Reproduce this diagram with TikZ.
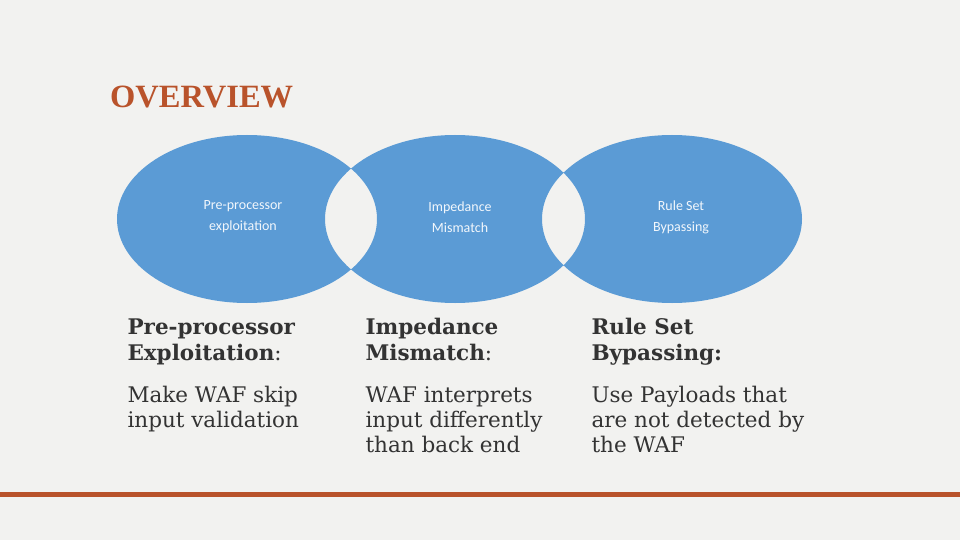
\documentclass[tikz,border=0pt]{standalone}
\usepackage{fontspec}
\setmainfont{Liberation Serif}
\newfontfamily\bodyf{DejaVu Serif}
\newfontfamily\lab{Carlito}
\definecolor{bg}{HTML}{F2F2F0}
\definecolor{blu}{HTML}{5B9BD5}
\definecolor{rust}{HTML}{B9532B}
\definecolor{txt}{HTML}{333333}
\begin{document}
\begin{tikzpicture}[x=1pt,y=-1pt,
  ell/.style={font=\lab\fontsize{14}{21}\selectfont,text=white!92!blu,align=center},
  head/.style={anchor=north west,font=\bodyf\fontsize{21.5}{26}\selectfont\bfseries,text=txt,align=left},
  body/.style={anchor=north west,font=\bodyf\fontsize{21.5}{25}\selectfont,text=txt,align=left}]
\fill[bg] (0,0) rectangle (960,540);
\useasboundingbox (0,0) rectangle (960,540);
\fill[blu,even odd rule] (247,219) ellipse [x radius=130,y radius=84]
  (455,219) ellipse [x radius=130,y radius=84]
  (672,219) ellipse [x radius=130,y radius=84];
\node[ell] (e1) at (243,217) {Pre-processor\\exploitation};
\node[ell] (e2) at (460,217) {Impedance\\Mismatch};
\node[ell] (e3) at (681,217) {Rule Set\\Bypassing};
\node[anchor=west,font=\fontsize{32.5}{34}\selectfont\bfseries,text=rust,inner sep=0] (t) at (110,97) {OVERVIEW};
\node[head] (h1) at (124,315) {Pre-processor\\Exploitation\textmd{:}};
\node[head] (h2) at (362,315) {Impedance\\Mismatch\textmd{:}};
\node[head] (h3) at (588,315) {Rule Set\\Bypassing:};
\node[body] (b1) at (124,383) {Make WAF skip\\input validation};
\node[body] (b2) at (362,383) {WAF interprets\\input differently\\than back end};
\node[body] (b3) at (588,383) {Use Payloads that\\are not detected by\\the WAF};
\fill[rust] (0,492) rectangle (960,497);
\end{tikzpicture}
\end{document}
